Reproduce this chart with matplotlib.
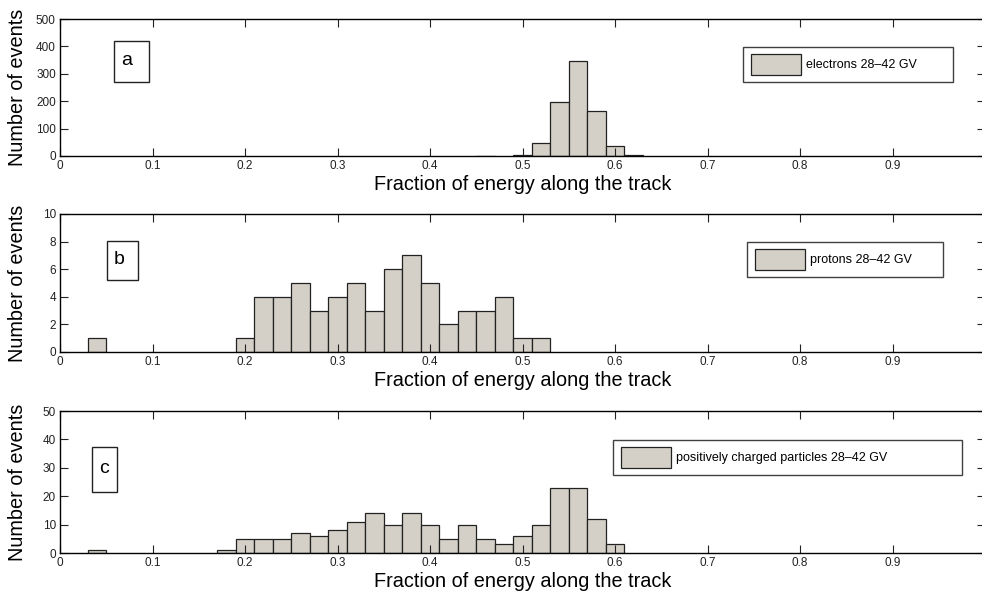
import numpy as np
import matplotlib
matplotlib.use("Agg")
import matplotlib.pyplot as plt
from matplotlib.patches import Rectangle

plt.rcParams['font.family'] = ['Liberation Sans', 'DejaVu Sans']

# bin left edges (width 0.02) and counts
bin_width = 0.02

a_edges = [0.45, 0.49, 0.51, 0.53, 0.55, 0.57, 0.59, 0.61]
a_counts = [1, 3, 47, 196, 345, 164, 36, 4]

b_edges = [0.03, 0.19, 0.21, 0.23, 0.25, 0.27, 0.29, 0.31, 0.33, 0.35,
           0.37, 0.39, 0.41, 0.43, 0.45, 0.47, 0.49, 0.51]
b_counts = [1, 1, 4, 4, 5, 3, 4, 5, 3, 6, 7, 5, 2, 3, 3, 4, 1, 1]

c_edges = [0.03, 0.17, 0.19, 0.21, 0.23, 0.25, 0.27, 0.29, 0.31, 0.33,
           0.35, 0.37, 0.39, 0.41, 0.43, 0.45, 0.47, 0.49, 0.51, 0.53,
           0.55, 0.57, 0.59]
c_counts = [1, 1, 5, 5, 5, 7, 6, 8, 11, 14, 10, 14, 10, 5, 10, 5, 3, 6,
            10, 23, 23, 12, 3]

panels = [
    # edges, counts, ymax, ystep, letter, legend label
    (a_edges, a_counts, 500, 100, 'a', 'electrons 28\u201342 GV'),
    (b_edges, b_counts, 10, 2, 'b', 'protons 28\u201342 GV'),
    (c_edges, c_counts, 50, 10, 'c', 'positively charged particles 28\u201342 GV'),
]

W, H = 982, 592
# axes pixel boxes: (top, bottom)
ax_px = [(19, 156), (214, 352), (411, 553)]
ax_left, ax_right = 60, 985
# letter box pixels: x0, x1, y0, y1
letter_px = [(114, 149, 41, 82), (107, 138, 241, 280), (92, 117, 447, 492)]
# legend box pixels: x0, x1, y0, y1
legend_px = [(743, 953, 46, 83), (747, 943, 241, 278), (613, 962, 439, 476)]

bar_color = '#d4d0c8'

fig = plt.figure(figsize=(W / 100, H / 100), dpi=100)

for i, (edges, counts, ymax, ystep, letter, label) in enumerate(panels):
    top, bot = ax_px[i]
    axw, axh = ax_right - ax_left, bot - top
    ax = fig.add_axes([ax_left / W, 1 - bot / H, axw / W, axh / H])
    ax.bar(edges, counts, width=bin_width, align='edge', color=bar_color,
           edgecolor='#222222', linewidth=0.9, label=label)
    ax.set_xlim(0, 1)
    ax.set_ylim(0, ymax)
    ax.set_xticks(np.arange(0, 1.0, 0.1))
    ax.set_xticklabels(['0'] + ['%.1f' % v for v in np.arange(0.1, 1.0, 0.1)])
    ax.set_yticks(np.arange(0, ymax + 1, ystep))
    ax.tick_params(direction='in', length=6, width=0.8, labelsize=8.5,
                   top=True, right=True, pad=3, colors='#222222')
    for s in ax.spines.values():
        s.set_linewidth(1.0)
    ax.set_xlabel('Fraction of energy along the track', fontsize=14.3, labelpad=2)
    ax.set_ylabel('Number of events', fontsize=14.3)
    ax.yaxis.set_label_coords(-33 / axw, 0.5)

    # letter box
    x0, x1, y0, y1 = letter_px[i]
    bx = (x0 - ax_left) / axw
    by = (bot - y1) / axh
    ax.add_patch(Rectangle((bx, by), (x1 - x0) / axw, (y1 - y0) / axh,
                           transform=ax.transAxes, facecolor='white',
                           edgecolor='#222222', linewidth=1.0, zorder=5))
    ax.text(bx + 7 / axw, by + (y1 - y0) * 0.53 / axh, letter, transform=ax.transAxes,
            fontsize=14, va='center', ha='left', zorder=6)

    # legend
    lx0, lx1, ly0, ly1 = legend_px[i]
    leg = ax.legend(loc='center left',
                    bbox_to_anchor=((lx0 - ax_left) / axw, (bot - ly1) / axh,
                                    (lx1 - lx0) / axw, (ly1 - ly0) / axh),
                    mode='expand', fontsize=9, frameon=True, fancybox=False,
                    handlelength=4.0, handleheight=2.2, borderpad=0.6,
                    handletextpad=0.4, borderaxespad=0)
    leg.get_frame().set_edgecolor('#111111')
    leg.get_frame().set_linewidth(1.0)

fig.savefig('out.png', dpi=100)
